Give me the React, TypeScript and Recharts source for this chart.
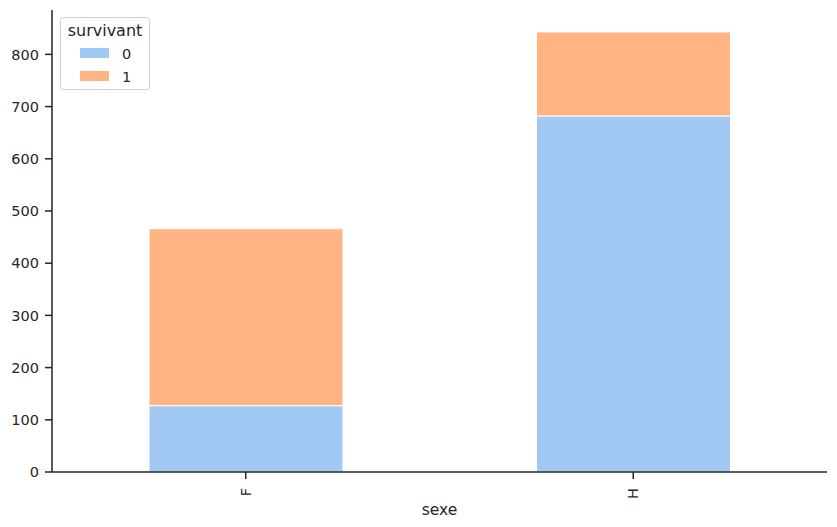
import React from "react";
import { BarChart, Bar, XAxis, YAxis } from "recharts";

const categories = ["F", "H"];
const survived0 = [127, 682];
const survived1 = [339, 161];
const yTicks = [0, 100, 200, 300, 400, 500, 600, 700, 800];
const legendTitle = "survivant";
const legendLabels = ["0", "1"];

const data = categories.map((c, i) => ({ sexe: c, s0: survived0[i], s1: survived1[i] }));

const FONT = "'DejaVu Sans', sans-serif";
const AXIS = "#262626";
const COLORS = ["#a1c9f4", "#ffb482"];

const XTick = (props: any) => {
  const { x, y, payload } = props;
  return (
    <g transform={`translate(${x},${y + 7})`}>
      <text transform="rotate(-90)" textAnchor="end" dy={5.2} fill={AXIS} fontSize={14.5} fontFamily={FONT}>
        {payload.value}
      </text>
    </g>
  );
};

const LegendOverlay = () => (
  <svg
    width={837}
    height={527}
    style={{ position: "absolute", left: 0, top: 0, pointerEvents: "none" }}
  >
    <rect x={60.5} y={17.5} width={89} height={72} rx={3} fill="rgba(255,255,255,0.8)" stroke="#d0d0d0" strokeWidth={1} />
    <text x={105} y={36} textAnchor="middle" fontSize={16} fontFamily={FONT} fill={AXIS}>
      {legendTitle}
    </text>
    {legendLabels.map((l, i) => (
      <g key={l}>
        <rect x={80} y={48 + i * 23} width={29} height={10} fill={COLORS[i]} />
        <text x={122} y={58.5 + i * 23} fontSize={14.5} fontFamily={FONT} fill={AXIS}>
          {l}
        </text>
      </g>
    ))}
  </svg>
);

export default function App() {
  return (
    <div style={{ position: "absolute", left: 0, top: 0, width: 837, height: 527, background: "#fff" }}>
      <BarChart
        width={837}
        height={527}
        data={data}
        margin={{ top: 10, right: 10, bottom: 0, left: 0 }}
        barCategoryGap={0}
      >
        <XAxis
          dataKey="sexe"
          tick={<XTick />}
          tickLine={{ stroke: AXIS, strokeWidth: 1.5 }}
          axisLine={{ stroke: AXIS, strokeWidth: 1.5 }}
          tickSize={7}
          height={55}
          interval={0}
          label={{ value: "sexe", position: "insideBottom", offset: 12, fill: AXIS, fontSize: 15.5, fontFamily: FONT }}
        />
        <YAxis
          type="number"
          domain={[0, 885]}
          ticks={yTicks}
          width={52}
          tick={{ fill: AXIS, fontSize: 14.5, fontFamily: FONT }}
          tickLine={{ stroke: AXIS, strokeWidth: 1.5 }}
          axisLine={{ stroke: AXIS, strokeWidth: 1.5 }}
          tickSize={7}
          tickMargin={6}
          allowDataOverflow
        />
        <Bar dataKey="s0" stackId="a" fill={COLORS[0]} stroke="#ffffff" strokeWidth={1} barSize={194} isAnimationActive={false} />
        <Bar dataKey="s1" stackId="a" fill={COLORS[1]} stroke="#ffffff" strokeWidth={1} barSize={194} isAnimationActive={false} />
      </BarChart>
      <LegendOverlay />
    </div>
  );
}
